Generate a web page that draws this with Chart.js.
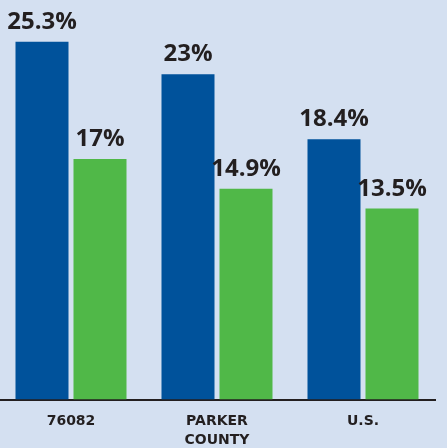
<!DOCTYPE html>
<html>
<head>
<meta charset="utf-8">
<script src="https://cdn.jsdelivr.net/npm/chart.js@4"></script>
<style>
  html, body { margin: 0; padding: 0; background: #d4e0f1; overflow: hidden; }
  #wrap { position: absolute; left: -2px; top: 0; width: 438px; height: 448px; }
</style>
</head>
<body>
<div id="wrap"><canvas id="myChart"></canvas></div>
<script>
// data
const categories = ["76082", ["PARKER", "COUNTY"], "U.S."];
const areaValues = [25.3, 23, 18.4];
const compareValues = [17, 14.9, 13.5];
const areaLabels = ["25.3%", "23%", "18.4%"];
const compareLabels = ["17%", "14.9%", "13.5%"];

const textColor = "#231f20";

// draws the % text above each bar
const valueLabels = {
  id: "valueLabels",
  afterDatasetsDraw(chart) {
    const ctx = chart.ctx;
    const texts = [areaLabels, compareLabels];
    ctx.save();
    ctx.font = "bold 24px 'Open Sans'";
    ctx.fillStyle = textColor;
    ctx.textAlign = "center";
    ctx.textBaseline = "alphabetic";
    chart.data.datasets.forEach((ds, i) => {
      chart.getDatasetMeta(i).data.forEach((bar, j) => {
        ctx.fillText(texts[i][j], bar.x, bar.y - 13);
      });
    });
    ctx.restore();
  }
};

new Chart(document.getElementById("myChart"), {
  type: "bar",
  data: {
    labels: categories,
    datasets: [
      { data: areaValues, backgroundColor: "#00529b", categoryPercentage: 0.7945, barPercentage: 0.914 },
      { data: compareValues, backgroundColor: "#50b848", categoryPercentage: 0.7945, barPercentage: 0.914 }
    ]
  },
  options: {
    responsive: true,
    maintainAspectRatio: false,
    animation: false,
    layout: { padding: 0 },
    plugins: { legend: { display: false }, tooltip: { enabled: false } },
    scales: {
      y: { display: false, min: 0, max: 28.25 },
      x: {
        grid: { display: false, drawTicks: false },
        border: { display: true, color: textColor, width: 2 },
        ticks: {
          color: textColor,
          padding: 12,
          font: { family: "'DejaVu Sans'", size: 14, weight: "bold", lineHeight: "19.5px" }
        },
        afterFit(scale) { scale.height = 48.5; }
      }
    }
  },
  plugins: [valueLabels]
});
</script>
</body>
</html>
